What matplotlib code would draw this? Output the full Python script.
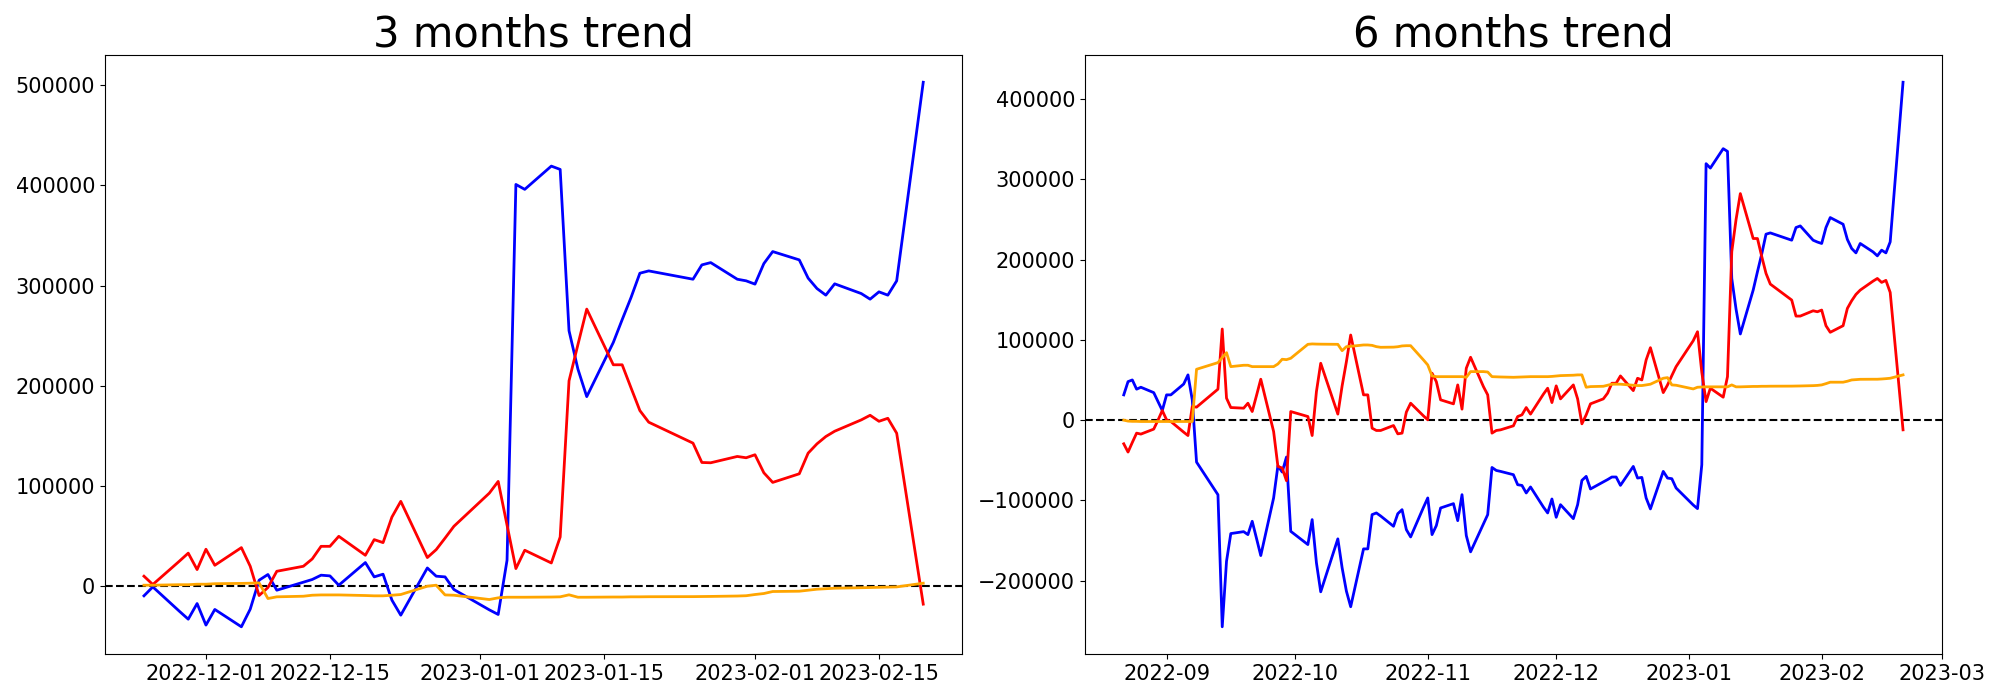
import pandas as pd
import matplotlib
matplotlib.use('Agg')
import matplotlib.pyplot as plt

# KRX trading days (market closed on these weekdays)
krx_holidays = ['2022-09-09', '2022-09-12', '2022-10-03', '2022-10-10',
                '2022-12-30', '2023-01-23', '2023-01-24']

dates_3m = pd.bdate_range('2022-11-24', '2023-02-20', freq='C', holidays=krx_holidays)
dates_6m = pd.bdate_range('2022-08-22', '2023-02-20', freq='C', holidays=krx_holidays)

# ---- 3 months (cumulative, 2022-11-24 .. 2023-02-20) ----
blue_3m = [-9600, -700, -25000, -32900, -17300,                           # Nov
           -38800, -23200, -40500, -22900, 6000, 11700, -4000,           # Dec
           4000, 6700, 11000, 10300, 1000, 23600, 9300, 12000, -13900,
           -28900, 18200, 10000, 9300, -3300,
           -23600, -28200, 25900, 401000, 396100, 419300, 416000,        # Jan
           255000, 216800, 189200, 243300, 266000, 288100, 312400,
           314700, 306400, 320700, 323000, 306400, 304800,
           301500, 322000, 334000, 325700, 307500, 297100, 290500,       # Feb
           301800, 292100, 286500, 293800, 290500, 304800, 503000]

red_3m = [10000, 1700, 25000, 33000, 16600,
          36900, 20900, 38500, 19900, -9300, -1300, 14900,
          19900, 27200, 39800, 39800, 49800, 30900, 46500, 43500, 69000,
          84700, 28600, 36500, 48000, 59800,
          92900, 104600, 61000, 17600, 35900, 23200, 49100,
          205000, 241000, 276600, 221000, 221000, 198000, 175300,
          163700, 142800, 123500, 123200, 129500, 128200,
          131200, 113200, 103600, 112200, 132800, 142100, 149400,
          154700, 166000, 170600, 164600, 167600, 152700, -17900]

orange_3m = [1000, 1000, 1500, 1500, 2000,
             2000, 2500, 2800, 3000, 3300, -12300, -10600,
             -10000, -9000, -8700, -8700, -8700, -9300, -9600, -9600, -9000,
             -8300, 0, 1000, -8700, -9000,
             -13300, -11600, -11000, -11000, -11000, -10800, -10600,
             -8600, -11000, -11000, -10800, -10800, -10600, -10600,
             -10500, -10400, -10300, -10200, -9800, -9500,
             -8300, -7300, -5300, -5000, -4000, -3000, -2500,
             -2000, -1500, -1300, -1100, -900, -700, 3000]

# ---- 6 months (cumulative, 2022-08-22 .. 2023-02-20) ----
blue_6m = [31500, 48000, 50100, 38600, 41000, 34300, 23100, 12000,        # Aug
           31500, 31500, 45000, 56400, 25300, -52300,                     # Sep
           -93000, -257600, -175900, -141400,
           -139000, -142700, -126100, -147300, -168800,
           -97000, -56900, -64700, -46000, -138600,
           -155100, -124000, -177900, -214000,                            # Oct
           -148000, -184100, -213200, -232600,
           -160500, -160500, -117800, -115700, -119500,
           -132300, -116600, -111600, -136500, -145600, -108700,
           -97000, -142700, -131500, -109500,                             # Nov
           -104100, -125300, -92900, -143900, -164200,
           -129400, -117800, -59000, -62700, -63900,
           -68000, -80500, -81400, -90800, -83300,
           -108300, -115700, -98300,
           -121100, -105400, -122800, -105400, -75100, -70100, -85800,   # Dec
           -77000, -74100, -70900, -70900, -81300,
           -57700, -72200, -71400, -97000, -110700,
           -63900, -72200, -73000, -84600,
           -105800, -110300, -55600, 319700, 314200,                      # Jan
           338400, 335000, 176600, 138400, 107400,
           162100, 185000, 207100, 231800, 233400,
           224300, 240100, 242100, 224300, 222000,
           220200, 240100, 252500, 244200, 225200, 214000, 208500,       # Feb
           220200, 209700, 204800, 211900, 208500, 222200, 421200]

red_6m = [-29500, -39800, -27800, -16200, -17400, -11200, 0, 12000,
          400, -1700, -15000, -19200, 16900, 16200,
          38600, 113600, 27400, 15700,
          14900, 21100, 10700, 30600, 51000,
          -14200, -57700, -59700, -75500, 10700,
          4500, -19200, 35600, 70900,
          7500, 42700, 72900, 106100,
          31500, 31500, -10000, -12900, -12900,
          -6700, -17100, -16200, 10000, 21100, 5300,
          400, 58500, 48000, 25300,
          20300, 43900, 13700, 64700, 78400,
          41800, 31500, -16200, -12900, -12100,
          -7100, 4500, 6600, 15700, 7500,
          32300, 39800, 21900,
          42700, 26500, 43900, 26500, -4600, 6600, 20300,
          26500, 33600, 46000, 46000, 55100,
          36800, 52200, 50100, 75000, 90300,
          34300, 43900, 55500, 66700,
          99000, 110200, 59700, 23100, 39800,
          28600, 54200, 210000, 250000, 282400,
          226400, 226400, 204000, 182900, 169600,
          149700, 129700, 129700, 136300, 135100,
          137200, 117700, 109500, 117700, 139300, 148800, 156700,
          162100, 173300, 176600, 171700, 174200, 159200, -12100]

orange_6m = [0, -1200, -1500, -1500, -1700, -1700, -1700, -1700,
             -1700, -1700, -1700, -1700, -1700, 63400,
             71700, 78000, 84100, 66700,
             68400, 68400, 66700, 66700, 66700,
             66700, 70000, 75900, 75400, 77100,
             94500, 95000, 94800, 94700,
             94500, 86600, 91600, 92000,
             93700, 93700, 93200, 91600, 90800,
             91000, 91500, 92500, 92800, 92800, 75000,
             68800, 55100, 54200, 54200,
             54200, 54200, 54200, 53400, 60500,
             60500, 60000, 54200, 54000, 53800,
             53400, 53600, 53800, 54000, 54200,
             54200, 54200, 54500,
             55000, 55500, 56000, 56400, 56400, 41000, 41800,
             42200, 43500, 44800, 44800, 44800,
             43500, 43100, 43100, 43900, 44800,
             52200, 53000, 43900, 43500,
             38900, 41000, 41300, 41500, 41500,
             41500, 41500, 43900, 41500, 41500,
             42000, 42000, 42200, 42200, 42300,
             42400, 42500, 42600, 43000, 43300,
             43900, 45500, 47300, 47300, 48500, 50100, 50500,
             50900, 51000, 51000, 51300, 51700, 52200, 56400]

panels = [('3 months trend', dates_3m, blue_3m, red_3m, orange_3m),
          ('6 months trend', dates_6m, blue_6m, red_6m, orange_6m)]

fig, axes = plt.subplots(nrows=1, ncols=2, figsize=(20, 7))

for ax, (title, dates, blue, red, orange) in zip(axes, panels):
    ax.axhline(0, color='black', linestyle='--', linewidth=1.5)
    ax.plot(dates, blue, color='blue', linewidth=2)
    ax.plot(dates, red, color='red', linewidth=2)
    ax.plot(dates, orange, color='orange', linewidth=2)
    ax.set_title(title, fontsize=30)
    ax.tick_params(axis='both', labelsize=15)

plt.subplots_adjust(left=0.0525, right=0.971, bottom=0.0657, top=0.9214, wspace=0.143)
plt.savefig('out.png', dpi=100)
